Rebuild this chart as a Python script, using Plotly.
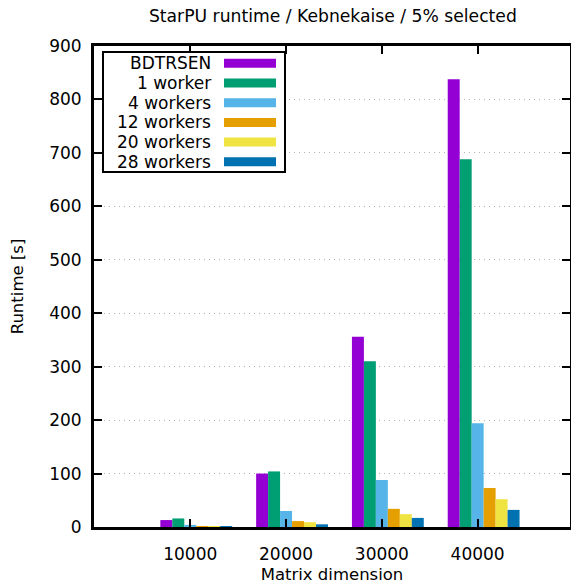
import plotly.graph_objects as go

# Runtime in seconds per matrix dimension, one list per configuration
dimensions = ["10000", "20000", "30000", "40000"]
series_names = ["BDTRSEN", "1 worker", "4 workers", "12 workers", "20 workers", "28 workers"]
bdtrsen = [13, 100, 356, 838]
worker1 = [16, 104, 310, 688]
workers4 = [4, 30, 88, 194]
workers12 = [1.0, 11, 34, 73]
workers20 = [0.8, 9, 24, 52]
workers28 = [0.6, 5, 17, 32]
y_ticks = [0, 100, 200, 300, 400, 500, 600, 700, 800, 900]

series_values = [bdtrsen, worker1, workers4, workers12, workers20, workers28]
colors = ["#9400d3", "#009e73", "#56b4e9", "#e69f00", "#f0e442", "#0072b2"]

FONT = "DejaVu Sans"
W, H = 571, 584
ML, MR, MT, MB = 94, 1, 46, 57
PW, PH = W - ML - MR, H - MT - MB

bar_w = 0.125
positions = list(range(len(dimensions)))

fig = go.Figure()
for k, (name, vals, col) in enumerate(zip(series_names, series_values, colors)):
    fig.add_trace(go.Bar(
        x=positions, y=vals, name=name,
        width=bar_w, offset=-2.5 * bar_w + k * bar_w,
        marker=dict(color=col, line=dict(width=0)),
        showlegend=False,
    ))


def px_x(p):
    return (p - ML) / PW


def px_y(p):
    return 1 - (p - MT) / PH


# Boxed key in the upper-left corner: labels right-aligned, colour swatch to the right
shapes = [dict(type="rect", xref="paper", yref="paper",
               x0=px_x(103), x1=px_x(285), y0=px_y(172), y1=px_y(52),
               fillcolor="white", line=dict(color="black", width=2), layer="above")]
annotations = []
row0, row_step = 63.3, 19.7
for k, (name, col) in enumerate(zip(series_names, colors)):
    cy = row0 + k * row_step
    shapes.append(dict(type="rect", xref="paper", yref="paper",
                       x0=px_x(224), x1=px_x(276), y0=px_y(cy + 4.5), y1=px_y(cy - 4.5),
                       fillcolor=col, line=dict(width=0), layer="above"))
    annotations.append(dict(text=name, xref="paper", yref="paper",
                            x=px_x(213), y=px_y(cy), xanchor="right", yanchor="middle",
                            showarrow=False, font=dict(family=FONT, size=17, color="black")))

fig.update_layout(
    width=W, height=H,
    margin=dict(l=ML, r=MR, t=MT, b=MB, pad=0, autoexpand=False),
    paper_bgcolor="white", plot_bgcolor="white",
    barmode="overlay",
    font=dict(family=FONT, size=17, color="black"),
    title=dict(text="StarPU runtime / Kebnekaise / 5% selected",
               x=0.583, xanchor="center", y=1 - 16 / H, yanchor="middle",
               font=dict(family=FONT, size=17.2)),
    shapes=shapes, annotations=annotations,
)
fig.update_xaxes(
    range=[-1.005, 3.964],
    tickmode="array", tickvals=positions, ticktext=dimensions,
    ticks="inside", ticklen=8, tickwidth=2, tickcolor="black",
    showline=True, linewidth=3, linecolor="black", mirror="ticks",
    showgrid=False, zeroline=False, automargin=False,
    ticklabelstandoff=10,
    title=dict(text="Matrix dimension", standoff=16, font=dict(family=FONT, size=16.5)),
)
fig.update_yaxes(
    range=[0, 900],
    tickmode="array", tickvals=y_ticks,
    ticks="inside", ticklen=8, tickwidth=2, tickcolor="black",
    showline=True, linewidth=3, linecolor="black", mirror="ticks",
    showgrid=True, gridcolor="#b0b0b0", gridwidth=1, griddash="1px,4px",
    zeroline=False, automargin=False,
    ticklabelstandoff=6,
    title=dict(text="Runtime [s]", standoff=22, font=dict(family=FONT, size=16.5)),
)

fig.write_html("out.html")
